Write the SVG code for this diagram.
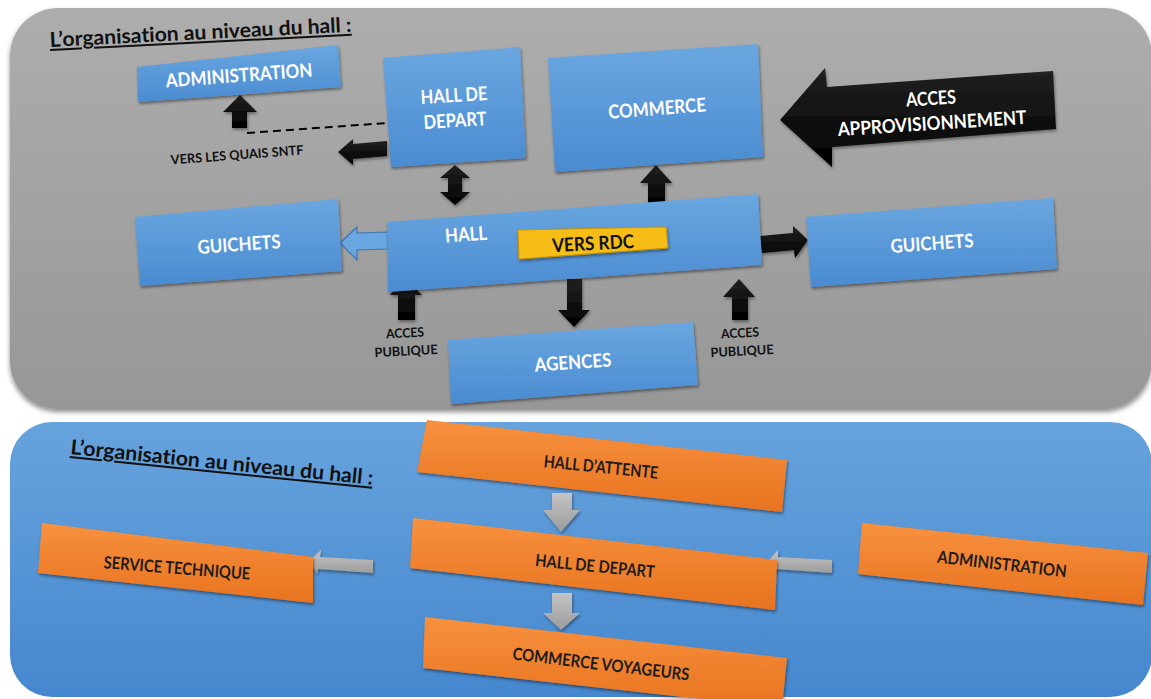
<svg xmlns="http://www.w3.org/2000/svg" width="1151" height="699" viewBox="0 0 1151 699">
<style>
.t{font-family:Lato,"Open Sans","Liberation Sans",sans-serif;font-weight:700;text-anchor:middle;font-variant-ligatures:none}
.w{fill:#ffffff}
.k{fill:#111111}
.d{fill:#1c1c1c}
.ttl{font-family:Lato,"Open Sans","Liberation Sans",sans-serif;font-weight:700;font-size:20.5px;fill:#111;text-decoration:underline;font-variant-ligatures:none}
.blue{fill:url(#gBlue);filter:url(#sh)}
.orng{fill:url(#gOr);filter:url(#sh)}
.blk{fill:url(#gBlk);filter:url(#sh2)}
.gry{fill:url(#gGr);filter:url(#sh2)}
</style>
<defs>
<linearGradient id="gPanel" x1="0" y1="0" x2="0" y2="1"><stop offset="0" stop-color="#adadad"/><stop offset="1" stop-color="#979797"/></linearGradient>
<linearGradient id="gPanelB" x1="0" y1="0" x2="0" y2="1"><stop offset="0" stop-color="#67a3dd"/><stop offset="1" stop-color="#4587ce"/></linearGradient>
<linearGradient id="gBlue" x1="0" y1="0" x2="0" y2="1"><stop offset="0" stop-color="#6aa7e0"/><stop offset="1" stop-color="#4a8bd1"/></linearGradient>
<linearGradient id="gOr" x1="0" y1="0" x2="0" y2="1"><stop offset="0" stop-color="#f7913f"/><stop offset="1" stop-color="#e8731f"/></linearGradient>
<linearGradient id="gBlk" x1="0" y1="0" x2="0" y2="1"><stop offset="0" stop-color="#222"/><stop offset="1" stop-color="#000"/></linearGradient>
<linearGradient id="gGr" x1="0" y1="0" x2="0" y2="1"><stop offset="0" stop-color="#c4c4c4"/><stop offset="1" stop-color="#9c9c9c"/></linearGradient>
<filter id="sh" x="-10%" y="-20%" width="120%" height="150%"><feDropShadow dx="1" dy="2" stdDeviation="1.5" flood-color="#000" flood-opacity="0.45"/></filter>
<filter id="sh2" x="-20%" y="-20%" width="140%" height="150%"><feDropShadow dx="1" dy="2" stdDeviation="1.5" flood-color="#000" flood-opacity="0.4"/></filter>
<filter id="shP" x="-5%" y="-5%" width="110%" height="115%"><feDropShadow dx="0" dy="3" stdDeviation="2.5" flood-color="#000" flood-opacity="0.45"/></filter>
</defs>
<rect width="1151" height="699" fill="#ffffff"/>

<g id="panel-top">
<rect x="10" y="8" width="1142" height="401" rx="48" fill="url(#gPanel)" filter="url(#shP)"/>
<text class="ttl" x="50" y="47" textLength="302" lengthAdjust="spacingAndGlyphs" transform="rotate(-2.9 50 47)">L’organisation au niveau du hall :</text>
</g>

<g id="panel-bottom">
<rect x="10" y="422" width="1142" height="275" rx="42" fill="url(#gPanelB)"/>
<text class="ttl" x="70" y="454" textLength="304" lengthAdjust="spacingAndGlyphs" transform="rotate(5.8 70 454)">L’organisation au niveau du hall :</text>
</g>

<g id="connectors">
<polygon class="blk" points="240,95 257,112 247,112 247,128 232,128 232,112 223,112"/>
<line x1="247" y1="133" x2="387" y2="123" stroke="#000" stroke-width="2" stroke-dasharray="8,5"/>
<polygon class="blk" points="338,152 353,139 353,144 387,141 387,156 353,159 353,165"/>
<polygon class="blk" points="455,165 470,178 462,178 462,192 470,192 455,205 440,192 448,192 448,178 440,178"/>
<polygon class="blk" points="656,165 672,183 665,183 665,205 648,205 648,183 640,183"/>
<polygon class="blk" points="780,120 825,68 827,87 1053,71 1056,129 832,147 832,167"/>
<polygon points="340,243 357,227 357,233 388,232 388,249 357,250 357,260" fill="#6aa7e0" stroke="#3b74b8" stroke-width="1.2"/>
<polygon class="blk" points="760,236 793,233 793,226 808,240 795,258 794,250 762,253"/>
<polygon class="blk" points="567,279 582,279 582,310 590,310 574,327 558,310 567,310"/>
<polygon class="blk" points="405,278 422,295 415,295 415,320 398,320 398,295 390,295"/>
<polygon class="blk" points="739,279 755,297 748,297 748,320 732,320 732,297 723,297"/>
<polygon class="gry" points="309,561 321,550 320,557 373,560 373,573 318,569 317,574"/>
<polygon class="gry" points="552,493 572,493 572,510 580,510 561,532 543,510 552,510"/>
<polygon class="gry" points="767,562 778,550 778,557 832,560 832,573 776,569 775,574"/>
<polygon class="gry" points="552,593 572,593 572,613 580,613 561,630 543,613 552,613"/>
</g>

<g id="admin-top">
<polygon class="blue" points="137,67 338,45 341,87 138,102"/>
<text class="t w" x="239" y="82" font-size="19" textLength="147" lengthAdjust="spacingAndGlyphs" transform="rotate(-4.3 239 75)">ADMINISTRATION</text>
</g>
<g id="hall-depart-top">
<polygon class="blue" points="383,58 520,47 526,158 391,167"/>
<text class="t w" x="454" y="102" font-size="19" textLength="67" lengthAdjust="spacingAndGlyphs" transform="rotate(-3.5 454 95)">HALL DE</text>
<text class="t w" x="455" y="127" font-size="19" textLength="63" lengthAdjust="spacingAndGlyphs" transform="rotate(-3.5 455 120)">DEPART</text>
</g>
<g id="commerce-top">
<polygon class="blue" points="548,58 758,44 763,157 555,172"/>
<text class="t w" x="657" y="115" font-size="19" textLength="98" lengthAdjust="spacingAndGlyphs" transform="rotate(-4.5 657 108)">COMMERCE</text>
</g>
<g id="acces-approvisionnement">
<text class="t w" x="931" y="105" font-size="19" textLength="50" lengthAdjust="spacingAndGlyphs" transform="rotate(-3.7 931 98)">ACCES</text>
<text class="t w" x="932" y="130" font-size="19" textLength="189" lengthAdjust="spacingAndGlyphs" transform="rotate(-3.7 932 123)">APPROVISIONNEMENT</text>
</g>
<g id="vers-quais">
<text class="t k" x="237" y="159.5" font-size="13" textLength="133" lengthAdjust="spacingAndGlyphs" transform="rotate(-4.3 237 155)">VERS LES QUAIS SNTF</text>
</g>
<g id="guichets-left">
<polygon class="blue" points="135,217 338,199 342,271 140,286"/>
<text class="t w" x="239" y="251" font-size="19" textLength="83" lengthAdjust="spacingAndGlyphs" transform="rotate(-4 239 244)">GUICHETS</text>
</g>
<g id="hall">
<polygon class="blue" points="387,222 758,194 762,265 388,292"/>
<text class="t w" x="466" y="241" font-size="19" textLength="42" lengthAdjust="spacingAndGlyphs" transform="rotate(-4 466 234)">HALL</text>
<polygon points="518,230 666,227 668,248 519,259" fill="#f6bd12" stroke="#c99400" stroke-width="1" filter="url(#sh2)"/>
<text class="t k" x="593" y="250" font-size="19" textLength="82" lengthAdjust="spacingAndGlyphs" transform="rotate(-3 593 243)">VERS RDC</text>
</g>
<g id="guichets-right">
<polygon class="blue" points="806,217 1053,198 1057,269 811,287"/>
<text class="t w" x="932" y="250" font-size="19" textLength="83" lengthAdjust="spacingAndGlyphs" transform="rotate(-4 932 243)">GUICHETS</text>
</g>
<g id="agences">
<polygon class="blue" points="448,340 693,322 698,385 451,404"/>
<text class="t w" x="573" y="369" font-size="19" textLength="77" lengthAdjust="spacingAndGlyphs" transform="rotate(-4 573 362)">AGENCES</text>
</g>
<g id="acces-publique-left">
<text class="t k" x="405" y="337.5" font-size="13" textLength="38" lengthAdjust="spacingAndGlyphs" transform="rotate(-3 405 333)">ACCES</text>
<text class="t k" x="406" y="355.5" font-size="13" textLength="63" lengthAdjust="spacingAndGlyphs" transform="rotate(-3 406 351)">PUBLIQUE</text>
</g>
<g id="acces-publique-right">
<text class="t k" x="740" y="337.5" font-size="13" textLength="38" lengthAdjust="spacingAndGlyphs" transform="rotate(-3 740 333)">ACCES</text>
<text class="t k" x="742" y="355.5" font-size="13" textLength="63" lengthAdjust="spacingAndGlyphs" transform="rotate(-3 742 351)">PUBLIQUE</text>
</g>

<g id="service-technique">
<polygon class="orng" points="42,523 313,557 313,603 38,573"/>
<text class="t d" x="177" y="574" font-size="17" textLength="147" lengthAdjust="spacingAndGlyphs" transform="rotate(4.5 177 568)">SERVICE TECHNIQUE</text>
</g>
<g id="hall-attente">
<polygon class="orng" points="427,420 787,460 782,512 417,472"/>
<text class="t d" x="601" y="473" font-size="17" textLength="115" lengthAdjust="spacingAndGlyphs" transform="rotate(5.8 601 467)">HALL D’ATTENTE</text>
</g>
<g id="hall-depart-bottom">
<polygon class="orng" points="413,518 777,560 775,610 410,568"/>
<text class="t d" x="595" y="572" font-size="17" textLength="120" lengthAdjust="spacingAndGlyphs" transform="rotate(5.6 595 566)">HALL DE DEPART</text>
</g>
<g id="commerce-voyageurs">
<polygon class="orng" points="425,617 787,658 782,708 423,668"/>
<text class="t d" x="601" y="670" font-size="17" textLength="178" lengthAdjust="spacingAndGlyphs" transform="rotate(6.8 601 664)">COMMERCE VOYAGEURS</text>
</g>
<g id="administration-bottom">
<polygon class="orng" points="862,523 1148,553 1143,605 858,574"/>
<text class="t d" x="1002" y="570" font-size="17" textLength="130" lengthAdjust="spacingAndGlyphs" transform="rotate(6.5 1002 564)">ADMINISTRATION</text>
</g>
</svg>
